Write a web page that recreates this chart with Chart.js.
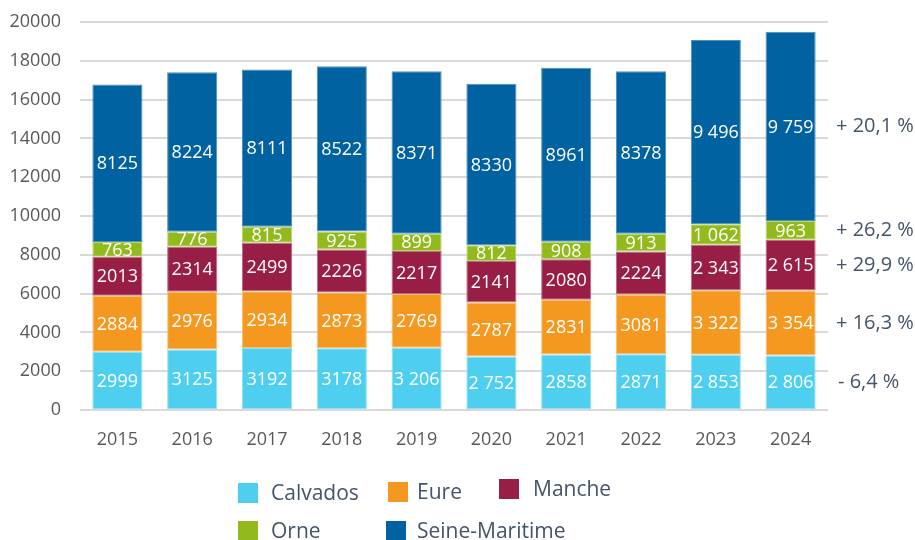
<!DOCTYPE html>
<html>
<head>
<meta charset="utf-8">
<script src="https://cdn.jsdelivr.net/npm/chart.js@4"></script>
<style>
  html, body { margin: 0; padding: 0; background: #fff; }
  #wrap { width: 915px; height: 540px; position: relative; }
</style>
</head>
<body>
<div id="wrap"><canvas id="chart" width="915" height="540"></canvas></div>
<script>
const years = ["2015", "2016", "2017", "2018", "2019", "2020", "2021", "2022", "2023", "2024"];

const calvados = [2999, 3125, 3192, 3178, 3206, 2752, 2858, 2871, 2853, 2806];
const eure = [2884, 2976, 2934, 2873, 2769, 2787, 2831, 3081, 3322, 3354];
const manche = [2013, 2314, 2499, 2226, 2217, 2141, 2080, 2224, 2343, 2615];
const orne = [763, 776, 815, 925, 899, 812, 908, 913, 1062, 963];
const seineMaritime = [8125, 8224, 8111, 8522, 8371, 8330, 8961, 8378, 9496, 9759];

// labels as printed in the source (some use a space as thousands separator)
const calvadosLabels = ["2999", "3125", "3192", "3178", "3 206", "2 752", "2858", "2871", "2 853", "2 806"];
const eureLabels = ["2884", "2976", "2934", "2873", "2769", "2787", "2831", "3081", "3 322", "3 354"];
const mancheLabels = ["2013", "2314", "2499", "2226", "2217", "2141", "2080", "2224", "2 343", "2 615"];
const orneLabels = ["763", "776", "815", "925", "899", "812", "908", "913", "1 062", "963"];
const seineLabels = ["8125", "8224", "8111", "8522", "8371", "8330", "8961", "8378", "9 496", "9 759"];

// change 2015 -> 2024 shown at the right of the last bar
const changes = ["- 6,4 %", "+ 16,3 %", "+ 29,9 %", "+ 26,2 %", "+ 20,1 %"];

const yTicks = [0, 2000, 4000, 6000, 8000, 10000, 12000, 14000, 16000, 18000, 20000];

const FONT = "'Open Sans', sans-serif";
const TEXT = "#44546a";

const series = [
  { label: "Calvados", data: calvados, labels: calvadosLabels, color: "#4ecff0", edge: "#8fe0f5" },
  { label: "Eure", data: eure, labels: eureLabels, color: "#f4981f", edge: "#f8bf73" },
  { label: "Manche", data: manche, labels: mancheLabels, color: "#991e45", edge: "#bd6a84" },
  { label: "Orne", data: orne, labels: orneLabels, color: "#93ba1c", edge: "#bcd570" },
  { label: "Seine-Maritime", data: seineMaritime, labels: seineLabels, color: "#0062a0", edge: "#4d8fbd" }
];

// legend boxes laid out like the source: 3 columns, 2 rows
const legendSlots = [
  { x: 238, y: 483, tx: 271 },
  { x: 388, y: 482, tx: 417 },
  { x: 499, y: 479, tx: 533 },
  { x: 238, y: 521, tx: 271 },
  { x: 386, y: 521, tx: 417 }
];

const labelsPlugin = {
  id: "segmentLabels",
  afterDatasetsDraw(chart) {
    const ctx = chart.ctx;
    ctx.save();
    ctx.font = "18px " + FONT;
    ctx.fillStyle = "#ffffff";
    ctx.textAlign = "center";
    ctx.textBaseline = "middle";
    chart.data.datasets.forEach((ds, di) => {
      const meta = chart.getDatasetMeta(di);
      meta.data.forEach((bar, i) => {
        ctx.fillText(series[di].labels[i], bar.x, (bar.y + bar.base) / 2 + 1);
      });
    });

    // change annotations next to the 2024 bar
    const last = years.length - 1;
    ctx.font = "20px " + FONT;
    ctx.fillStyle = TEXT;
    ctx.textAlign = "left";
    chart.data.datasets.forEach((ds, di) => {
      const bar = chart.getDatasetMeta(di).data[last];
      const x = di === 0 ? 838 : 836;
      ctx.fillText(changes[di], x, (bar.y + bar.base) / 2);
    });
    ctx.restore();
  },
  afterDraw(chart) {
    const ctx = chart.ctx;
    ctx.save();
    ctx.font = "21px " + FONT;
    ctx.textBaseline = "middle";
    ctx.textAlign = "left";
    series.forEach((s, i) => {
      const slot = legendSlots[i];
      ctx.fillStyle = s.color;
      ctx.fillRect(slot.x, slot.y, 20, 20);
      ctx.fillStyle = TEXT;
      ctx.fillText(s.label, slot.tx, slot.y + 11);
    });
    ctx.restore();
  }
};

new Chart(document.getElementById("chart"), {
  type: "bar",
  data: {
    labels: years,
    datasets: series.map(s => ({
      label: s.label,
      data: s.data,
      backgroundColor: s.color,
      borderColor: s.edge,
      borderWidth: 1,
      borderSkipped: false,
      categoryPercentage: 1,
      barPercentage: 0.67
    }))
  },
  options: {
    responsive: false,
    animation: false,
    layout: { padding: { top: 22, right: 87, left: 0, bottom: 0 } },
    plugins: {
      legend: { display: false },
      tooltip: { enabled: false }
    },
    scales: {
      x: {
        stacked: true,
        grid: { display: false },
        border: { display: false },
        ticks: { color: "#595959", font: { family: FONT, size: 18 }, padding: 11 },
        afterFit(scale) { scale.height = 130; }
      },
      y: {
        stacked: true,
        min: 0,
        max: 20000,
        afterBuildTicks(scale) { scale.ticks = yTicks.map(v => ({ value: v })); },
        grid: { color: "#d9d9d9", lineWidth: 2, drawTicks: false },
        border: { display: false },
        ticks: {
          color: "#595959",
          font: { family: FONT, size: 18 },
          padding: 19,
          callback: v => String(v)
        },
        afterFit(scale) {
          scale.width = 80;
          scale.paddingTop = 0;
          scale.paddingBottom = 0;
        }
      }
    }
  },
  plugins: [labelsPlugin]
});
</script>
</body>
</html>
